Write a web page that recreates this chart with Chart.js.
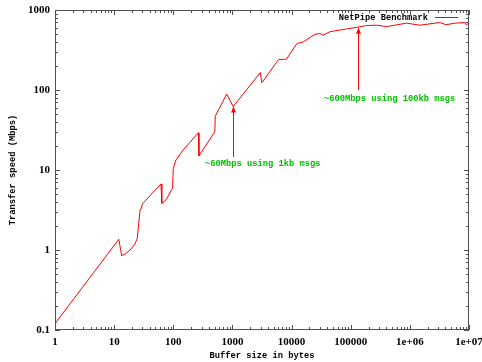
<!DOCTYPE html>
<html><head><meta charset="utf-8">
<script src="https://cdn.jsdelivr.net/npm/chart.js@4/dist/chart.umd.min.js"></script>
<style>html,body{margin:0;padding:0;background:#fff;}</style>
</head><body>
<canvas id="c" width="482" height="362"></canvas>
<script>
// Data (buffer size in bytes -> Mbps)
const bufferSizes = [1, 12, 13.4, 15.3, 18.6, 22.5, 24.6, 27.4, 28.5, 30, 62, 64, 75, 97, 100, 111, 147, 265, 272, 505, 512, 800, 1030, 2960, 3150, 6000, 8200, 12300, 15700, 24900, 30000, 34400, 44800, 85000, 131072, 186000, 274000, 405000, 880000, 1480000, 3200000, 4100000, 5800000, 8600000, 9000000, 10000000];
const speedsMbps  = [0.12, 1.36, 0.85, 0.89, 1.0, 1.19, 1.4, 3.16, 3.26, 3.76, 6.7, 3.83, 4.2, 5.9, 10.5, 13.3, 17.8, 29.2, 15, 30.2, 47, 89, 62, 165, 123, 240, 243, 381, 398, 497, 508, 486, 536, 580, 610, 640, 646, 620, 685, 646, 697, 655, 685, 697, 650, 690];

const xTickValues = [1, 10, 100, 1000, 10000, 100000, 1000000, 10000000];
const xTickLabels = ['1', '10', '100', '1000', '10000', '100000', '1e+06', '1e+07'];
const yTickValues = [0.1, 1, 10, 100, 1000];
const yTickLabels = ['0.1', '1', '10', '100', '1000'];

const seriesLabel = 'NetPipe Benchmark';
const xTitle = 'Buffer size in bytes';
const yTitle = 'Transfer speed (Mbps)';

// Annotations (data coordinates)
const arrowX = [1024, 131072];
const arrowFromY = [14.5, 100];
const arrowToY = [62, 600];
const labelTexts = ['~60Mbps using 1kb msgs', '~600Mbps using 100kb msgs'];
const labelX = [344, 35400];
const labelY = [11.8, 77.2];

const monoFont = 'bold 8.75px "Liberation Mono"';

const decorPlugin = {
  id: 'decor',
  afterDatasetsDraw(chart) {
    const ctx = chart.ctx;
    const a = chart.chartArea;
    const xs = chart.scales.x, ys = chart.scales.y;
    ctx.save();
    // border
    ctx.strokeStyle = '#505050';
    ctx.lineWidth = 1;
    ctx.strokeRect(Math.round(a.left) + 0.5, Math.round(a.top) + 0.5, Math.round(a.right - a.left) - 1, Math.round(a.bottom - a.top) - 1);
    // ticks (major + minor) on all sides, inward
    const drawX = (v, len) => {
      const p = Math.round(xs.getPixelForValue(v)) + 0.5;
      ctx.beginPath();
      ctx.moveTo(p, a.bottom); ctx.lineTo(p, a.bottom - len);
      ctx.moveTo(p, a.top); ctx.lineTo(p, a.top + len);
      ctx.stroke();
    };
    const drawY = (v, len) => {
      const p = Math.round(ys.getPixelForValue(v)) + 0.5;
      ctx.beginPath();
      ctx.moveTo(a.left, p); ctx.lineTo(a.left + len, p);
      ctx.moveTo(a.right, p); ctx.lineTo(a.right - len, p);
      ctx.stroke();
    };
    xTickValues.forEach((d, i) => {
      drawX(d, 5);
      if (i < xTickValues.length - 1) for (let m = 2; m <= 9; m++) drawX(d * m, 3);
    });
    yTickValues.forEach((d, i) => {
      drawY(d, 5);
      if (i < yTickValues.length - 1) for (let m = 2; m <= 9; m++) drawY(d * m, 3);
    });
    // arrows
    ctx.strokeStyle = '#ff0000';
    ctx.fillStyle = '#ff0000';
    arrowX.forEach((xv, i) => {
      const px = Math.round(xs.getPixelForValue(xv)) + 0.5;
      const y1 = ys.getPixelForValue(arrowFromY[i]);
      const y2 = ys.getPixelForValue(arrowToY[i]);
      ctx.beginPath(); ctx.moveTo(px, y1); ctx.lineTo(px, y2); ctx.stroke();
      ctx.beginPath();
      ctx.moveTo(px, y2); ctx.lineTo(px - 2.5, y2 + 6); ctx.lineTo(px + 2.5, y2 + 6); ctx.closePath();
      ctx.fill();
    });
    // labels
    ctx.fillStyle = '#00c000';
    ctx.font = monoFont;
    ctx.textAlign = 'left';
    ctx.textBaseline = 'middle';
    labelTexts.forEach((t, i) => {
      ctx.fillText(t, xs.getPixelForValue(labelX[i]), ys.getPixelForValue(labelY[i]));
    });
    // legend (gnuplot style: text then line sample)
    const ds = chart.data.datasets[0];
    ctx.fillStyle = '#000';
    ctx.textAlign = 'right';
    ctx.fillText(ds.label, a.right - 41, a.top + 7.5);
    ctx.strokeStyle = ds.borderColor;
    ctx.beginPath();
    ctx.moveTo(a.right - 34, a.top + 7.5); ctx.lineTo(a.right - 11, a.top + 7.5);
    ctx.stroke();
    ctx.restore();
  }
};

new Chart(document.getElementById('c'), {
  type: 'scatter',
  data: {
    datasets: [{
      label: seriesLabel,
      data: bufferSizes.map((x, i) => ({ x: x, y: speedsMbps[i] })),
      showLine: true,
      borderColor: '#ff0000',
      borderWidth: 1,
      pointRadius: 0,
      tension: 0,
      fill: false
    }]
  },
  options: {
    responsive: false,
    animation: false,
    devicePixelRatio: 1,
    layout: { padding: { top: 10, right: 13, left: 0, bottom: 0 } },
    plugins: { legend: { display: false }, tooltip: { enabled: false } },
    scales: {
      x: {
        type: 'logarithmic', position: 'bottom', min: 1, max: 1e7,
        grid: { display: false, drawTicks: false }, border: { display: false },
        afterBuildTicks: s => { s.ticks = xTickValues.map(v => ({ value: v })); },
        afterFit: s => { s.height = 32; s.paddingLeft = 0; s.paddingRight = 0; },
        ticks: {
          autoSkip: false, maxRotation: 0, minRotation: 0, padding: 6, color: '#000',
          font: { family: '"Liberation Serif"', weight: 'bold', size: 11 },
          callback: (v, i) => xTickLabels[i]
        },
        title: { display: true, text: xTitle, color: '#000',
          font: { family: '"Liberation Mono"', weight: 'bold', size: 8.75 }, padding: { top: 0, bottom: 1 } }
      },
      y: {
        type: 'logarithmic', position: 'left', min: 0.1, max: 1000,
        grid: { display: false, drawTicks: false }, border: { display: false },
        afterBuildTicks: s => { s.ticks = yTickValues.map(v => ({ value: v })); },
        afterFit: s => { s.width = 55; s.paddingTop = 0; s.paddingBottom = 0; },
        ticks: {
          autoSkip: false, padding: 5, color: '#000',
          font: { family: '"Liberation Serif"', weight: 'bold', size: 11 },
          callback: (v, i) => yTickLabels[i]
        },
        title: { display: true, text: yTitle, color: '#000',
          font: { family: '"Liberation Mono"', weight: 'bold', size: 8.75 }, padding: { top: 8, bottom: 0 } }
      }
    }
  },
  plugins: [decorPlugin]
});
</script>
</body></html>
